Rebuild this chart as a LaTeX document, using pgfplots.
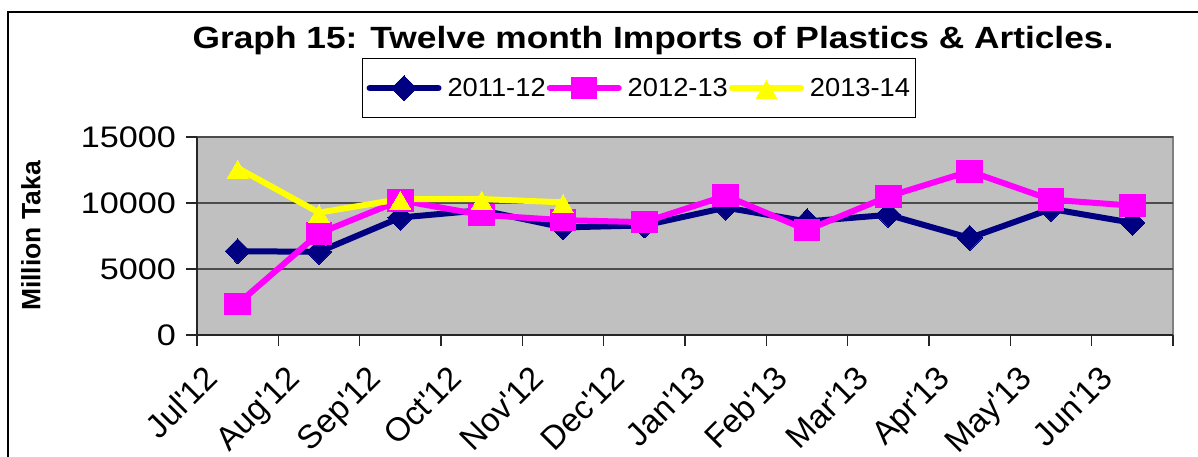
\documentclass[border=0pt]{standalone}
\usepackage{pgfplots}
\pgfplotsset{compat=1.18}
\usepackage{fontspec}
\setmainfont[FakeStretch=1.15]{Liberation Sans}
\newfontfamily\plainsans{Liberation Sans}
\newfontfamily\legfont[FakeStretch=1.05]{Liberation Sans}
\definecolor{bggray}{RGB}{192,192,192}
\definecolor{navyc}{RGB}{0,0,128}
\definecolor{magc}{RGB}{255,0,255}
\definecolor{yelc}{RGB}{255,255,0}
\newcommand\xl[1]{{\plainsans\fontsize{33}{37}\selectfont #1}}
\begin{document}
\begin{tikzpicture}
\useasboundingbox (0,0) rectangle (1198pt,457pt);
\draw[line width=2pt] (8pt,-5pt) -- (8pt,445pt) -- (1205pt,445pt);
\node[font=\bfseries\fontsize{30.7}{36}\selectfont] at (653pt,416pt) {Graph 15: Twelve month Imports of Plastics \& Articles.};
\node[rotate=90, font=\plainsans\bfseries\fontsize{26.5}{30}\selectfont] at (31pt,221pt) {Million Taka};
\begin{axis}[
  at={(197pt,122pt)}, anchor=south west,
  scale only axis, width=976pt, height=198pt,
  xmin=0, xmax=12, ymin=0, ymax=15000,
  xtick={0,...,12},
  xticklabels={\xl{Jul\textquotesingle12},\xl{Aug\textquotesingle12},\xl{Sep\textquotesingle12},\xl{Oct\textquotesingle12},\xl{Nov\textquotesingle12},\xl{Dec\textquotesingle12},\xl{Jan\textquotesingle13},\xl{Feb\textquotesingle13},\xl{Mar\textquotesingle13},\xl{Apr\textquotesingle13},\xl{May\textquotesingle13},\xl{Jun\textquotesingle13},{}},
  ytick={0,5000,10000,15000},
  scaled y ticks=false,
  /pgf/number format/assume math mode=true,
  /pgf/number format/1000 sep={},
  axis x line*=bottom, axis y line*=left,
  axis line style={-, line width=1.5pt, black!85},
  axis background/.style={fill=bggray, draw=black!50, line width=1.5pt},
  tick align=outside, major tick length=11pt,
  tick style={line width=1.5pt, black!85},
  ymajorgrids, major grid style={line width=1.5pt, black!70},
  yticklabel style={font=\fontsize{29.7}{34}\selectfont, inner sep=0pt, xshift=-10pt},
  xticklabel style={inner sep=0pt, anchor=base east, xshift=23pt, yshift=-34pt, rotate=45},
  legend style={at={(0.169,1.399)}, anchor=north west, draw=black, line width=1.2pt,
    inner xsep=4pt, inner ysep=17pt, font=\legfont\fontsize{26}{30}\selectfont,
    nodes={inner xsep=1pt, inner ysep=2pt},
    /tikz/every even column/.append style={column sep=0pt},
    /tikz/every odd column/.append style={column sep=5pt}},
  legend columns=3,
  legend image code/.code={\draw[mark repeat=2,mark phase=2,#1] plot coordinates {(0pt,0pt) (34.5pt,0pt) (69pt,0pt)};},
  every axis plot/.append style={line width=6pt, line join=round, line cap=round},
  clip=false,
]
\addplot[navyc, mark=diamond*, mark size=12.5pt, mark options={solid, fill=navyc, draw=navyc, line width=0pt, xscale=1.33}]
coordinates {(0.5,6350) (1.5,6300) (2.5,8900) (3.5,9450) (4.5,8150) (5.5,8300) (6.5,9650) (7.5,8600) (8.5,9100) (9.5,7350) (10.5,9550) (11.5,8500)};
\addlegendentry{2011-12}
\addplot[magc, mark=square*, mark size=10.8pt, mark options={solid, fill=magc, draw=magc, line width=0pt, xscale=1.18}]
coordinates {(0.5,2350) (1.5,7700) (2.5,10200) (3.5,9100) (4.5,8700) (5.5,8550) (6.5,10550) (7.5,7950) (8.5,10500) (9.5,12400) (10.5,10250) (11.5,9800)};
\addlegendentry{2012-13}
\addplot[yelc, mark=triangle*, mark size=12pt, mark options={solid, fill=yelc, draw=yelc, line width=0pt, yshift=-4.2pt}]
coordinates {(0.5,12650) (1.5,9270) (2.5,10300) (3.5,10300) (4.5,10050)};
\addlegendentry{2013-14}
\end{axis}
\end{tikzpicture}
\end{document}
